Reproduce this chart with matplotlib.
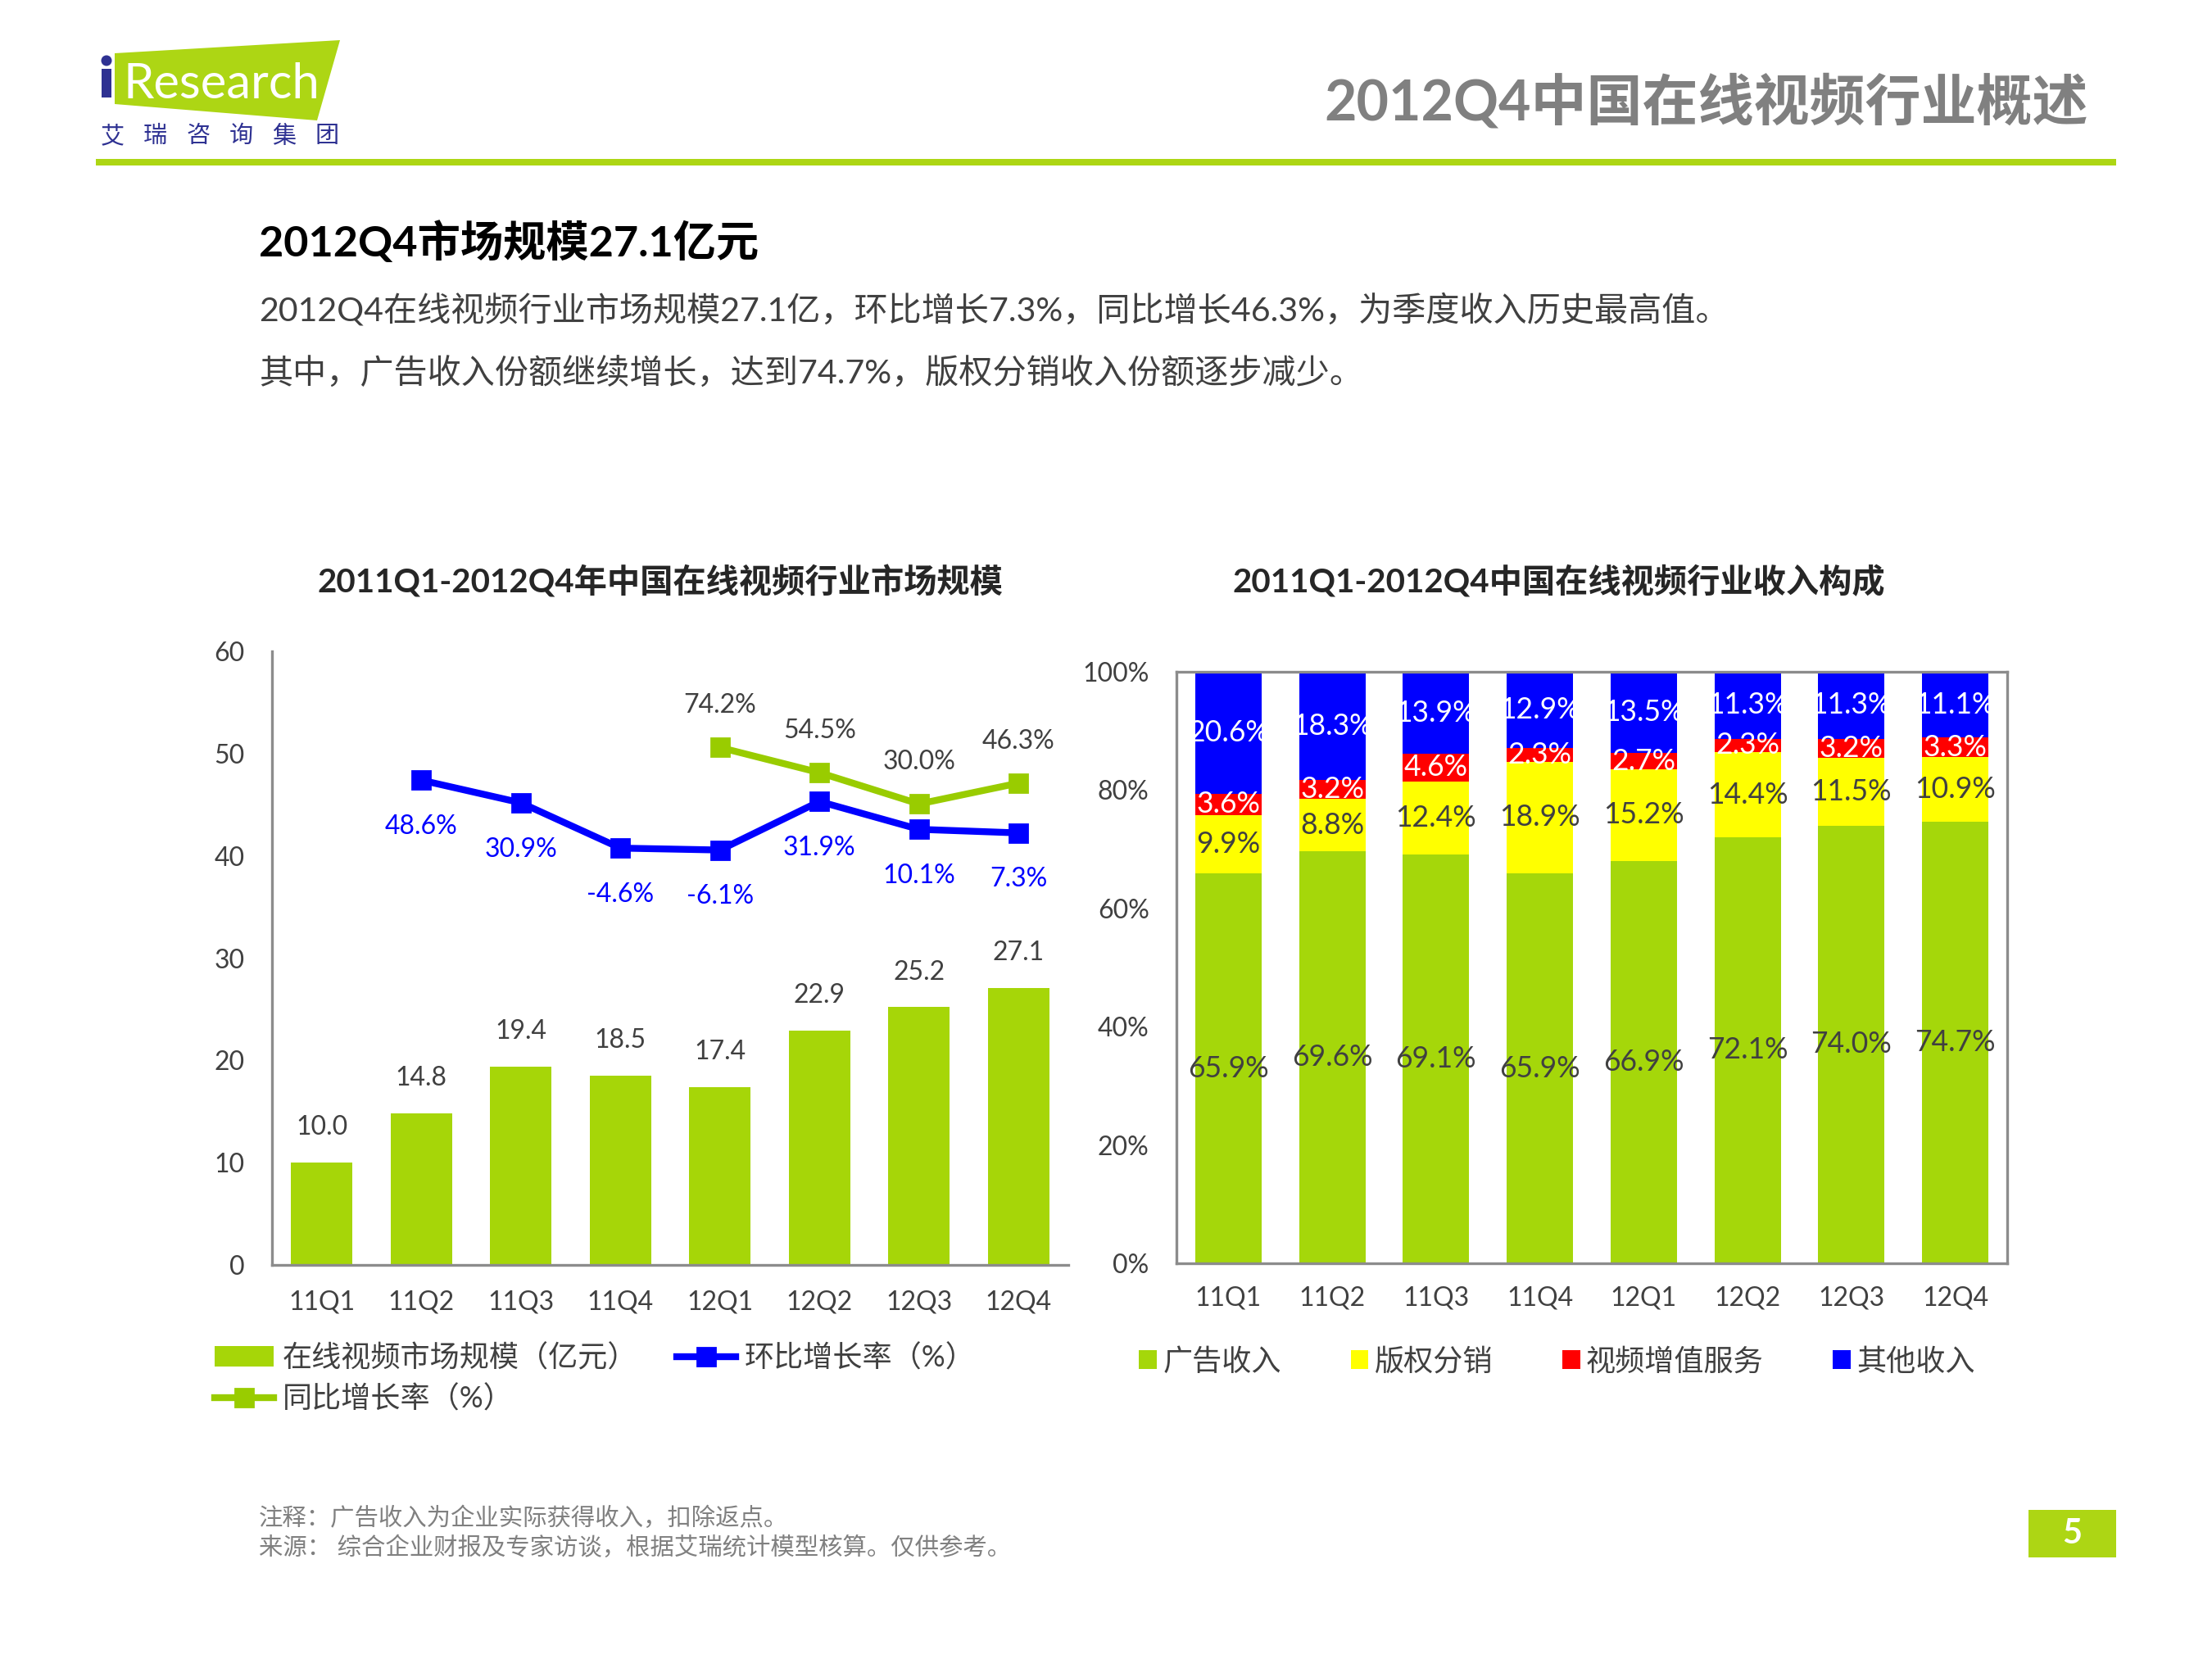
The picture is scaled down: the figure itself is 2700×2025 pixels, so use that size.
import matplotlib
matplotlib.use("Agg")
import matplotlib.pyplot as plt
from matplotlib.patches import Polygon, Rectangle, Ellipse
import numpy as np

plt.rcParams['font.family'] = ['Lato', 'Noto Sans CJK SC', 'DejaVu Sans']

# ----------------------------------
# Data
# ----------------------------------
quarters = ["11Q1", "11Q2", "11Q3", "11Q4", "12Q1", "12Q2", "12Q3", "12Q4"]
market_size = [10.0, 14.8, 19.4, 18.5, 17.4, 22.9, 25.2, 27.1]

qoq_quarters = ["11Q2", "11Q3", "11Q4", "12Q1", "12Q2", "12Q3", "12Q4"]
qoq_growth = [48.6, 30.9, -4.6, -6.1, 31.9, 10.1, 7.3]

yoy_quarters = ["12Q1", "12Q2", "12Q3", "12Q4"]
yoy_growth = [74.2, 54.5, 30.0, 46.3]

rev_names = ["广告收入", "版权分销", "视频增值服务", "其他收入"]
ad_rev = [65.9, 69.6, 69.1, 65.9, 66.9, 72.1, 74.0, 74.7]
copyright_rev = [9.9, 8.8, 12.4, 18.9, 15.2, 14.4, 11.5, 10.9]
vas_rev = [3.6, 3.2, 4.6, 2.3, 2.7, 2.3, 3.2, 3.3]
other_rev = [20.6, 18.3, 13.9, 12.9, 13.5, 11.3, 11.3, 11.1]

# ----------------------------------
# Styles
# ----------------------------------
GREEN = "#A5D70A"
LINE_GREEN = "#99CC00"
BAR_GREEN = "#A6D608"
BLUE = "#0000FF"
RED = "#FF0000"
YELLOW = "#FFFF00"
TXT = "#404040"
AXIS = "#8C8C8C"
W, H = 2700, 2025

fig = plt.figure(figsize=(13.5, 10.125), dpi=200)

# page overlay in pixel coordinates (header, logo, texts)
bg = fig.add_axes([0, 0, 1, 1])
bg.set_xlim(0, W)
bg.set_ylim(H, 0)
bg.axis("off")

# logo
bg.add_patch(Polygon([(140, 65), (415, 49), (387, 147), (140, 127)],
                     closed=True, color="#ADD614", lw=0))
bg.add_patch(Ellipse((130, 74), 13, 13, color="#2E3192", lw=0))
bg.add_patch(Rectangle((124, 84), 12, 35, color="#2E3192", lw=0))
bg.text(150, 120, "Research", color="white", fontsize=21.5,
        family=["Lato", "DejaVu Sans"], ha="left", va="baseline")
for i, ch in enumerate("艾瑞咨询集团"):
    bg.text(137 + i * 52.4, 166, ch, color="#2E3192", fontsize=10.5,
            ha="center", va="center")

bg.text(2549, 125, "2012Q4中国在线视频行业概述", color="#808080",
        fontsize=24.5, fontweight="bold", ha="right", va="center")
bg.add_patch(Rectangle((117, 194), 2466, 8, color="#ADD614", lw=0))

bg.text(316, 296, "2012Q4市场规模27.1亿元", color="black", fontsize=18.8,
        fontweight="bold", ha="left", va="center")
bg.text(316, 378, "2012Q4在线视频行业市场规模27.1亿，环比增长7.3%，同比增长46.3%，为季度收入历史最高值。",
        color=TXT, fontsize=14.8, ha="left", va="center")
bg.text(316, 455, "其中，广告收入份额继续增长，达到74.7%，版权分销收入份额逐步减少。",
        color=TXT, fontsize=14.8, ha="left", va="center")

bg.text(806, 710, "2011Q1-2012Q4年中国在线视频行业市场规模", color="#262626",
        fontsize=14.5, fontweight="bold", ha="center", va="center")
bg.text(1903, 710, "2011Q1-2012Q4中国在线视频行业收入构成", color="#262626",
        fontsize=14.5, fontweight="bold", ha="center", va="center")

bg.text(316, 1853, "注释：广告收入为企业实际获得收入，扣除返点。", color="#808080",
        fontsize=10.6, ha="left", va="center")
bg.text(316, 1889, "来源： 综合企业财报及专家访谈，根据艾瑞统计模型核算。仅供参考。",
        color="#808080", fontsize=10.6, ha="left", va="center")
bg.add_patch(Rectangle((2476, 1843), 107, 58, color="#ADD614", lw=0))
bg.text(2529, 1872, "5", color="white", fontsize=15, fontweight="bold",
        ha="center", va="center")

# ----------------------------------
# Left chart: market size + growth rates
# ----------------------------------
ax = fig.add_axes([332 / W, 1 - 1544 / H, (1304 - 332) / W, (1544 - 795) / H])
x = np.arange(len(quarters))
bars = ax.bar(x, market_size, width=0.62, color=BAR_GREEN, zorder=2)
for xi, v in zip(x, market_size):
    ax.annotate(f"{v:.1f}", (xi, v), xytext=(0, 10), textcoords="offset points",
                ha="center", va="bottom", fontsize=11.5, color=TXT)
ax.set_xlim(-0.5, 7.5)
ax.set_ylim(0, 60)
ax.set_yticks(range(0, 61, 10))
ax.set_xticks(x)
ax.set_xticklabels(quarters)
for s in ["top", "right"]:
    ax.spines[s].set_visible(False)
for s in ["left", "bottom"]:
    ax.spines[s].set_color(AXIS)
    ax.spines[s].set_linewidth(1.2)
ax.tick_params(length=0, pad=12, labelsize=11.5, labelcolor=TXT)
ax.tick_params(axis="x", pad=11)

ax2 = ax.twinx()
ax2.set_ylim(-331, 149.5)
ax2.axis("off")
qx = [quarters.index(q) for q in qoq_quarters]
yx = [quarters.index(q) for q in yoy_quarters]
l_qoq, = ax2.plot(qx, qoq_growth, color=BLUE, lw=3, marker="s", ms=8)
l_yoy, = ax2.plot(yx, yoy_growth, color=LINE_GREEN, lw=3, marker="s", ms=8)
for xi, v in zip(qx, qoq_growth):
    ax2.annotate(f"{v:.1f}%", (xi, v), xytext=(0, -15), textcoords="offset points",
                 ha="center", va="top", fontsize=11.5, color=BLUE)
for xi, v in zip(yx, yoy_growth):
    ax2.annotate(f"{v:.1f}%", (xi, v), xytext=(0, 13), textcoords="offset points",
                 ha="center", va="bottom", fontsize=11.5, color=TXT)

leg = ax.legend([bars, l_yoy, l_qoq],
                ["在线视频市场规模（亿元）", "同比增长率（%）", "环比增长率（%）"],
                ncol=2, loc="upper left", bbox_to_anchor=(-0.072, -0.128),
                frameon=False, borderpad=0, borderaxespad=0,
                handlelength=2.0, handletextpad=0.3, columnspacing=1.3,
                labelspacing=0.45,
                prop={"family": ["Lato", "Noto Sans CJK SC"], "size": 13})
for t in leg.get_texts():
    t.set_color(TXT)

# ----------------------------------
# Right chart: revenue structure (100% stacked)
# ----------------------------------
axr = fig.add_axes([1436 / W, 1 - 1542 / H, (2450 - 1436) / W, (1542 - 820) / H])
series = [ad_rev, copyright_rev, vas_rev, other_rev]
colors = [GREEN, YELLOW, RED, BLUE]
label_colors = [TXT, TXT, "white", "white"]
totals = np.sum(np.array(series), axis=0)
bottom = np.zeros(len(quarters))
handles = []
for vals, col, lc in zip(series, colors, label_colors):
    share = np.array(vals) / totals * 100
    b = axr.bar(x, share, bottom=bottom, width=0.64, color=col, zorder=2)
    handles.append(b)
    for xi, raw, s, bt in zip(x, vals, share, bottom):
        axr.text(xi, bt + s / 2, f"{raw:.1f}%", ha="center", va="center",
                 fontsize=12.8, color=lc, zorder=3)
    bottom += share
axr.set_xlim(-0.5, 7.5)
axr.set_ylim(0, 100)
axr.set_yticks(range(0, 101, 20))
axr.set_yticklabels([f"{v}%" for v in range(0, 101, 20)])
axr.set_xticks(x)
axr.set_xticklabels(quarters)
for s in axr.spines.values():
    s.set_color(AXIS)
    s.set_linewidth(1.2)
axr.tick_params(length=0, pad=12, labelsize=11.5, labelcolor=TXT)
axr.tick_params(axis="x", pad=10)

legr = axr.legend(handles, rev_names, ncol=4, loc="upper left",
                  bbox_to_anchor=(-0.045, -0.142), frameon=False,
                  borderpad=0, borderaxespad=0, handlelength=0.6,
                  handleheight=0.6, handletextpad=0.2, columnspacing=2.35,
                  prop={"family": ["Noto Sans CJK SC"], "size": 13})
for t in legr.get_texts():
    t.set_color(TXT)

fig.savefig("out.png", dpi=200)
